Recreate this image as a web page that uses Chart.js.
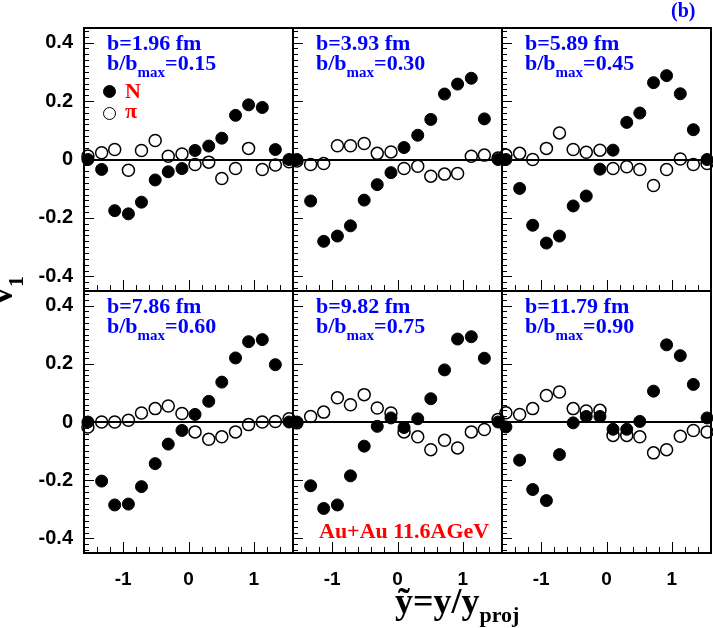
<!DOCTYPE html>
<html>
<head>
<meta charset="utf-8">
<title>v1 vs scaled rapidity</title>
<script src="https://cdn.jsdelivr.net/npm/chart.js@4.4.1/dist/chart.umd.min.js"></script>
<style>
  body { margin: 0; background: #fff; }
  #fig { position: relative; width: 713px; height: 628px; overflow: hidden; background: #fff; }
  #fig canvas { position: absolute; }
  .txt { position: absolute; white-space: nowrap; font-family: "Liberation Serif", "Times New Roman", serif; font-weight: bold; line-height: 1; z-index: 5; }
  .blue { color: #0000ff; }
  .red { color: #ff0000; }
  .sub { line-height: 0; }
  .mark { position: absolute; box-sizing: border-box; border-radius: 50%; z-index: 5; }
</style>
</head>
<body>
<div id="fig"></div>
<script>
// rapidity bins (same for every panel)
const rapidity = [-1.54, -1.33, -1.13, -0.92, -0.72, -0.51, -0.31, -0.10, 0.10, 0.31, 0.51, 0.72, 0.92, 1.13, 1.33, 1.54];

const impactParam = ['1.96', '3.93', '5.89', '7.86', '9.82', '11.79'];
const bRatio = ['0.15', '0.30', '0.45', '0.60', '0.75', '0.90'];

// nucleon v1 (filled circles)
const nucleonB196 = [0.00, -0.034, -0.175, -0.186, -0.146, -0.070, -0.042, -0.031, 0.031, 0.046, 0.073, 0.151, 0.187, 0.178, 0.034, 0.00];
const nucleonB393 = [0.00, -0.142, -0.280, -0.262, -0.227, -0.139, -0.086, -0.045, 0.041, 0.083, 0.137, 0.224, 0.258, 0.278, 0.139, 0.00];
const nucleonB589 = [0.00, -0.099, -0.225, -0.286, -0.262, -0.159, -0.125, -0.033, 0.032, 0.127, 0.159, 0.263, 0.287, 0.225, 0.102, 0.00];
const nucleonB786 = [0.00, -0.203, -0.285, -0.282, -0.222, -0.143, -0.076, -0.029, 0.026, 0.071, 0.137, 0.220, 0.276, 0.283, 0.197, 0.00];
const nucleonB982 = [0.00, -0.219, -0.297, -0.285, -0.185, -0.083, -0.015, 0.014, -0.019, 0.011, 0.080, 0.179, 0.285, 0.293, 0.219, 0.00];
const nucleonB1179 = [-0.017, -0.131, -0.232, -0.270, -0.112, -0.003, 0.019, 0.019, -0.025, -0.025, 0.002, 0.106, 0.265, 0.228, 0.129, 0.014];

// pion v1 (open circles)
const pionB196 = [0.012, 0.023, 0.034, -0.037, 0.031, 0.065, 0.011, 0.019, -0.017, -0.009, -0.065, -0.031, 0.038, -0.034, -0.019, -0.008];
const pionB393 = [-0.005, -0.017, -0.014, 0.047, 0.047, 0.055, 0.021, 0.026, -0.031, -0.023, -0.057, -0.050, -0.048, 0.011, 0.015, 0.005];
const pionB589 = [0.015, 0.021, 0.00, 0.038, 0.091, 0.034, 0.025, 0.032, -0.031, -0.025, -0.034, -0.089, -0.034, 0.002, -0.017, -0.014];
const pionB786 = [-0.017, 0.00, 0.00, 0.006, 0.031, 0.046, 0.055, 0.029, -0.034, -0.059, -0.051, -0.034, -0.009, 0.00, 0.002, 0.011];
const pionB982 = [-0.003, 0.019, 0.034, 0.083, 0.059, 0.094, 0.048, 0.031, -0.034, -0.051, -0.095, -0.063, -0.089, -0.034, -0.026, 0.009];
const pionB1179 = [0.032, 0.026, 0.046, 0.091, 0.103, 0.046, 0.038, 0.040, -0.046, -0.046, -0.051, -0.106, -0.095, -0.049, -0.029, -0.034];

const xTickValues = [-1, 0, 1];
const yTickValues = [-0.4, -0.2, 0, 0.2, 0.4];

const nucleonSeries = [nucleonB196, nucleonB393, nucleonB589, nucleonB786, nucleonB982, nucleonB1179];
const pionSeries = [pionB196, pionB393, pionB589, pionB786, pionB982, pionB1179];

// panel geometry
const panelLeft = [84, 293, 502];
const panelTop = [28, 291];
const panelHeight = [263, 262];
const panelWidth = 209;
const axisW = 84, axisH = 50, padTop = 28, padRight = 12;

const fig = document.getElementById('fig');

// frame, inner ticks and the v1 = 0 line
const framePlugin = {
    id: 'frame',
    beforeDatasetsDraw(chart) {
        const ctx = chart.ctx;
        const a = chart.chartArea;
        const xs = chart.scales.x, ys = chart.scales.y;
        ctx.save();
        ctx.strokeStyle = '#000';
        ctx.lineWidth = 1;
        ctx.beginPath();
        for (let i = -22; i <= 22; i++) {
            const py = Math.round(ys.getPixelForValue(i * 0.02)) + 0.5;
            const len = i % 10 === 0 ? 10 : 5;
            ctx.moveTo(a.left, py);
            ctx.lineTo(a.left + len, py);
        }
        for (let i = -7; i <= 7; i++) {
            const px = Math.round(xs.getPixelForValue(i * 0.2)) + 0.5;
            const len = i % 5 === 0 ? 11 : 6;
            ctx.moveTo(px, a.bottom);
            ctx.lineTo(px, a.bottom - len);
        }
        ctx.stroke();

        ctx.lineWidth = 2;
        const y0 = Math.round(ys.getPixelForValue(0));
        ctx.beginPath();
        ctx.moveTo(a.left, y0);
        ctx.lineTo(a.right, y0);
        ctx.stroke();

        ctx.strokeRect(a.left, a.top, a.right - a.left, a.bottom - a.top);
        ctx.restore();
    }
};

function makePanel(idx) {
    const col = idx % 3, row = Math.floor(idx / 3);
    const canvas = document.createElement('canvas');
    const w = axisW + panelWidth + padRight;
    const h = padTop + panelHeight[row] + axisH;
    canvas.width = w;
    canvas.height = h;
    canvas.style.left = (panelLeft[col] - axisW) + 'px';
    canvas.style.top = (panelTop[row] - padTop) + 'px';
    fig.appendChild(canvas);

    new Chart(canvas.getContext('2d'), {
        type: 'scatter',
        data: {
            datasets: [{
                label: 'N',
                data: rapidity.map((x, i) => ({ x: x, y: nucleonSeries[idx][i] })),
                pointRadius: 6,
                pointBackgroundColor: '#000',
                pointBorderColor: '#000',
                pointBorderWidth: 1,
                clip: 12
            }, {
                label: 'π',
                data: rapidity.map((x, i) => ({ x: x, y: pionSeries[idx][i] })),
                pointRadius: 6,
                pointBackgroundColor: 'rgba(0,0,0,0)',
                pointBorderColor: '#000',
                pointBorderWidth: 1.5,
                clip: 12
            }]
        },
        options: {
            responsive: false,
            animation: false,
            events: [],
            layout: { padding: { top: padTop, right: padRight, left: 0, bottom: 0 } },
            plugins: { legend: { display: false }, tooltip: { enabled: false } },
            scales: {
                x: {
                    type: 'linear',
                    min: -1.6,
                    max: 1.6,
                    grid: { display: false, drawTicks: false },
                    border: { display: false },
                    afterBuildTicks: s => { s.ticks = xTickValues.map(v => ({ value: v })); },
                    afterFit: s => { s.height = axisH; },
                    ticks: {
                        display: row === 1,
                        padding: 15,
                        color: '#000',
                        font: { family: 'Liberation Sans', weight: 'bold', size: 19 },
                        callback: v => String(v)
                    }
                },
                y: {
                    min: -0.45,
                    max: 0.45,
                    grid: { display: false, drawTicks: false },
                    border: { display: false },
                    afterBuildTicks: s => { s.ticks = yTickValues.map(v => ({ value: v })); },
                    afterFit: s => { s.width = axisW; },
                    ticks: {
                        display: col === 0,
                        padding: 11,
                        color: '#000',
                        font: { family: 'Liberation Sans', weight: 'bold', size: 20 },
                        callback: v => (Math.abs(v) < 1e-9 ? '0' : v.toFixed(1))
                    }
                }
            }
        },
        plugins: [framePlugin]
    });
}

for (let i = 0; i < 6; i++) makePanel(i);

// text helper: place a div so that its baseline sits at y
function addText(html, x, baseline, size, cls) {
    const d = document.createElement('div');
    d.className = 'txt ' + cls;
    d.style.fontSize = size + 'px';
    d.style.left = x + 'px';
    d.style.top = (baseline - 0.8375 * size) + 'px';
    d.innerHTML = html;
    fig.appendChild(d);
    return d;
}

for (let i = 0; i < 6; i++) {
    const col = i % 3, row = Math.floor(i / 3);
    const x = panelLeft[col] + 23;
    const t = panelTop[row];
    addText('b=' + impactParam[i] + ' fm', x, t + 22, 22, 'blue');
    addText('b/b<span class="sub" style="font-size:15px;vertical-align:-7px">max</span>=' + bRatio[i], x, t + 42, 22, 'blue');
}

// legend
function addMark(cx, cy, filled) {
    const m = document.createElement('div');
    m.className = 'mark';
    m.style.left = (cx - 6.5) + 'px';
    m.style.top = (cy - 6.5) + 'px';
    m.style.width = '13px';
    m.style.height = '13px';
    m.style.background = filled ? '#000' : 'transparent';
    m.style.border = filled ? '1px solid #000' : '1.5px solid #000';
    fig.appendChild(m);
}
addMark(109, 91, true);
addMark(109, 113, false);
addText('N', 125, 98, 22, 'red');
addText('π', 125, 118, 22, 'red');

addText('Au+Au 11.6AGeV', 319, 538, 22, 'red');
addText('(b)', 671, 17, 20, 'blue');

// axis titles
addText('ỹ=y/y<span class="sub" style="font-size:22px;vertical-align:-9px">proj</span>', 395, 613, 36, '');
const yTitle = addText('v<span class="sub" style="font-size:22px;vertical-align:-11px">1</span>', 0, 0, 36, '');
yTitle.style.left = (12 - 0.8375 * 36) + 'px';
yTitle.style.top = '305px';
yTitle.style.transformOrigin = '0 0';
yTitle.style.transform = 'rotate(-90deg)';
</script>
</body>
</html>
